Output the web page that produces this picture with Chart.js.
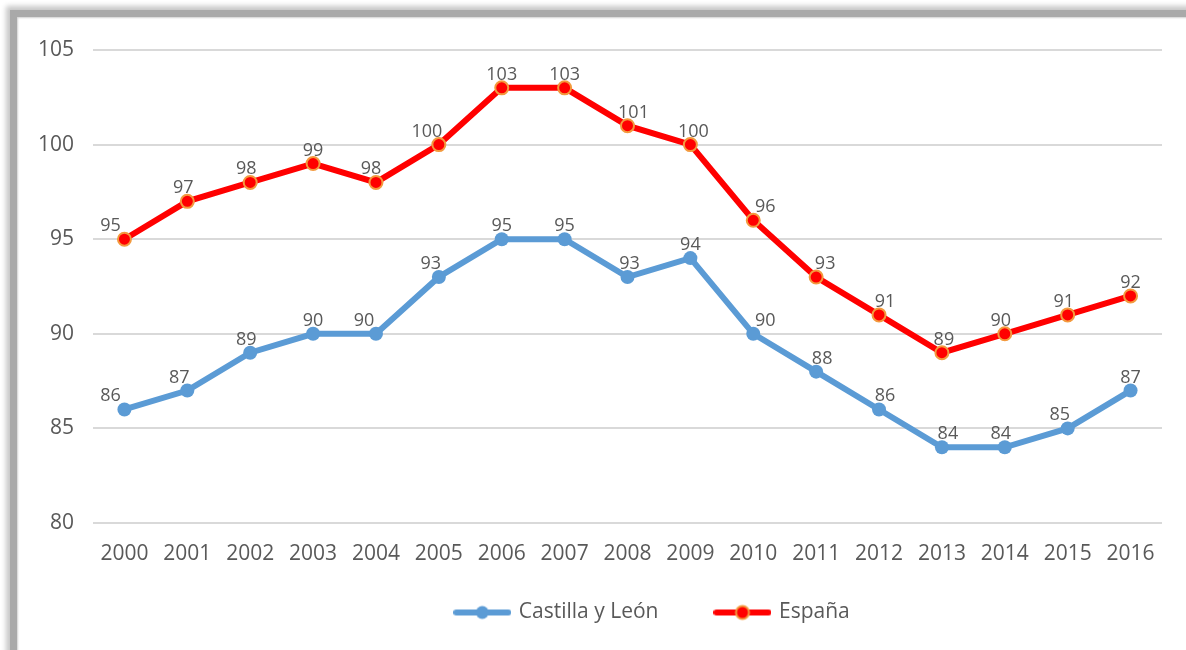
<!DOCTYPE html>
<html>
<head>
<meta charset="utf-8">
<script src="https://cdn.jsdelivr.net/npm/chart.js@4/dist/chart.umd.min.js"></script>
<style>
  html, body { margin: 0; padding: 0; background: #fff; overflow: hidden; }
  #frame {
    position: absolute; left: 10px; top: 10px; width: 1200px; height: 700px;
    border-left: 7px solid #a9a9a9; border-top: 7px solid #a9a9a9;
    box-shadow: -2px -2px 5px 2px #c8c8c8, inset 1px 1px 2px #d0d0d0;
  }
  #wrap { position: absolute; left: 0; top: 0; width: 1186px; height: 650px; }
</style>
</head>
<body>
<div id="frame"></div>
<div id="wrap"><canvas id="chart" width="1186" height="650"></canvas></div>
<script>
const years = ['2000', '2001', '2002', '2003', '2004', '2005', '2006', '2007', '2008',
               '2009', '2010', '2011', '2012', '2013', '2014', '2015', '2016'];
const castillaLeon = [86, 87, 89, 90, 90, 93, 95, 95, 93, 94, 90, 88, 86, 84, 84, 85, 87];
const espana = [95, 97, 98, 99, 98, 100, 103, 103, 101, 100, 96, 93, 91, 89, 90, 91, 92];

const FONT = '"Open Sans", "Noto Sans", sans-serif';
const TEXT_COLOR = '#595959';
const BLUE = '#5B9BD5';
const RED = '#FF0000';
const ORANGE = '#F39A3E';

// legend marker: line with a dot in the middle
function legendMarker(line, fill, border) {
    const c = document.createElement('canvas');
    c.width = 58; c.height = 18;
    const ctx = c.getContext('2d');
    ctx.strokeStyle = line;
    ctx.lineWidth = 6;
    ctx.lineCap = 'round';
    ctx.beginPath();
    ctx.moveTo(3, 9); ctx.lineTo(55, 9);
    ctx.stroke();
    ctx.beginPath();
    ctx.arc(29, 9, 6.5, 0, Math.PI * 2);
    ctx.fillStyle = fill;
    ctx.fill();
    if (border) {
        ctx.lineWidth = 2;
        ctx.strokeStyle = border;
        ctx.stroke();
    }
    return c;
}

// value labels above each point, nudged away from the line
const pointLabels = {
    id: 'pointLabels',
    afterLayout(chart) {
        // legend sits a bit right of centre and higher in the original
        chart.legend.left += 72;
        chart.legend.right += 72;
        chart.legend.top -= 19;
        chart.legend.bottom -= 19;
    },
    afterDatasetsDraw(chart) {
        const ctx = chart.ctx;
        ctx.save();
        ctx.font = '18px ' + FONT;
        ctx.fillStyle = TEXT_COLOR;
        ctx.textAlign = 'center';
        ctx.textBaseline = 'alphabetic';
        chart.data.datasets.forEach((ds, di) => {
            const meta = chart.getDatasetMeta(di);
            meta.data.forEach((pt, i) => {
                const v = ds.data[i];
                const prev = i > 0 ? ds.data[i - 1] : v;
                const next = i < ds.data.length - 1 ? ds.data[i + 1] : v;
                let dx = -4 * Math.max(0, next - v) + 3 * Math.max(0, prev - v);
                if (i === 0) dx = -14;
                dx = Math.max(-18, Math.min(14, dx));
                ctx.fillText(String(v), pt.x + dx, pt.y - 8);
            });
        });
        ctx.restore();
    }
};

new Chart(document.getElementById('chart'), {
    type: 'line',
    data: {
        labels: years,
        datasets: [{
            label: 'Castilla y León',
            data: castillaLeon,
            borderColor: BLUE,
            backgroundColor: BLUE,
            borderWidth: 6,
            pointRadius: 7,
            pointBorderWidth: 0,
            pointBackgroundColor: BLUE,
            tension: 0
        }, {
            label: 'España',
            data: espana,
            borderColor: RED,
            backgroundColor: RED,
            borderWidth: 6,
            pointRadius: 6.5,
            pointBorderWidth: 2,
            pointBorderColor: ORANGE,
            pointBackgroundColor: RED,
            tension: 0
        }]
    },
    options: {
        responsive: false,
        animation: false,
        layout: { padding: { top: 50, left: 0, right: 24, bottom: -2 } },
        plugins: {
            tooltip: { enabled: false },
            legend: {
                position: 'bottom',
                labels: {
                    usePointStyle: true,
                    pointStyleWidth: 52,
                    boxHeight: 18,
                    padding: 58,
                    color: TEXT_COLOR,
                    font: { family: FONT, size: 21 },
                    generateLabels(chart) {
                        return [
                            { text: 'Castilla y León', pointStyle: legendMarker(BLUE, BLUE, null),
                              fillStyle: BLUE, strokeStyle: BLUE, lineWidth: 0, datasetIndex: 0, fontColor: TEXT_COLOR },
                            { text: 'España', pointStyle: legendMarker(RED, RED, ORANGE),
                              fillStyle: RED, strokeStyle: RED, lineWidth: 0, datasetIndex: 1, fontColor: TEXT_COLOR }
                        ];
                    }
                }
            }
        },
        scales: {
            x: {
                offset: true,
                grid: { display: false },
                border: { display: false },
                ticks: { color: TEXT_COLOR, font: { family: FONT, size: 21 }, padding: 10, maxRotation: 0 },
                afterFit(scale) { scale.height = 40; }
            },
            y: {
                min: 80,
                max: 105,
                ticks: { stepSize: 5, color: TEXT_COLOR, font: { family: FONT, size: 21 }, padding: 19 },
                grid: { color: '#D9D9D9', lineWidth: 2, drawTicks: false },
                border: { display: false },
                afterFit(scale) { scale.width = 93; }
            }
        }
    },
    plugins: [pointLabels]
});
</script>
</body>
</html>
